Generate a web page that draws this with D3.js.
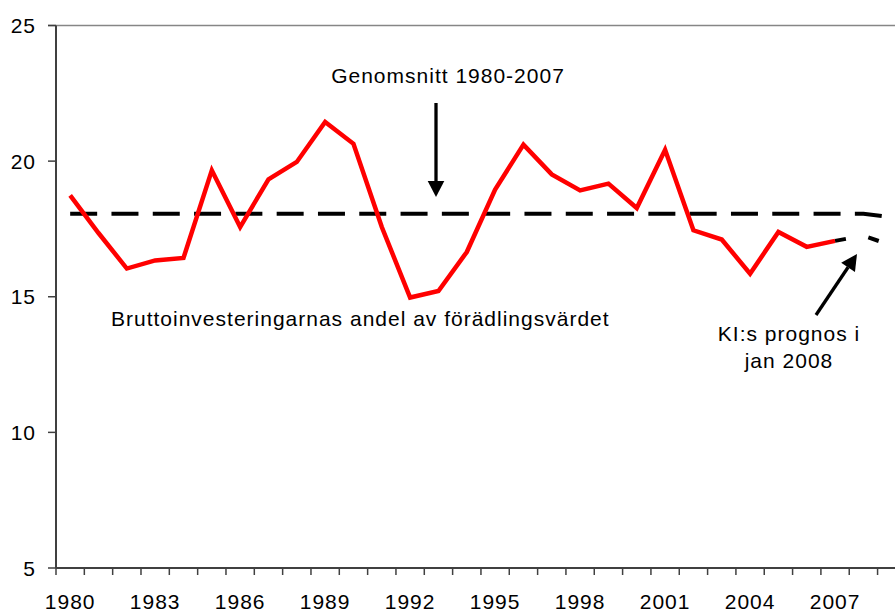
<!DOCTYPE html>
<html>
<head>
<meta charset="utf-8">
<script src="https://cdn.jsdelivr.net/npm/d3@7"></script>
<style>
  body { margin: 0; background: #fff; }
  svg { display: block; }
  text { font-family: "Liberation Sans", Arial, sans-serif; font-size: 21px; letter-spacing: 1px; fill: #000; }
</style>
</head>
<body>
<div id="chart"></div>
<script>
var width = 895, height = 612;

// data
var years = d3.range(1980, 2010);
var actualYears = d3.range(1980, 2008);
var actual = [18.74, 17.35, 16.04, 16.34, 16.43, 19.66, 17.57, 19.33, 19.97, 21.44,
              20.64, 17.57, 14.97, 15.21, 16.65, 18.95, 20.61, 19.51, 18.92, 19.17,
              18.27, 20.42, 17.45, 17.11, 15.85, 17.39, 16.84, 17.06];
var forecastYears = [2007, 2008, 2009];
var forecast = [17.06, 17.25, 16.89];
var average = [18.06, 18.06, 18.06, 18.06, 18.06, 18.06, 18.06, 18.06, 18.06, 18.06,
               18.06, 18.06, 18.06, 18.06, 18.06, 18.06, 18.06, 18.06, 18.06, 18.06,
               18.06, 18.06, 18.06, 18.06, 18.06, 18.06, 18.06, 18.06, 18.06, 17.93];
var yTicks = [5, 10, 15, 20, 25];
var xLabels = [1980, 1983, 1986, 1989, 1992, 1995, 1998, 2001, 2004, 2007];

var svg = d3.select("#chart").append("svg")
  .attr("width", width)
  .attr("height", height);

var x = d3.scaleBand()
  .domain(years)
  .range([56, 56 + 30 * 28.33]);

var y = d3.scaleLinear()
  .domain([5, 25])
  .range([568, 25.5]);

function cx(d) { return x(d) + x.bandwidth() / 2; }

// top border line
svg.append("line")
  .attr("x1", 48).attr("x2", width)
  .attr("y1", y(25)).attr("y2", y(25))
  .attr("stroke", "#868686")
  .attr("stroke-width", 1.5);

// y axis
svg.append("line")
  .attr("x1", 56).attr("x2", 56)
  .attr("y1", y(25)).attr("y2", y(5))
  .attr("stroke", "#404040")
  .attr("stroke-width", 2);

svg.selectAll(".ytick")
  .data(yTicks)
  .enter().append("line")
    .attr("x1", 48).attr("x2", 56)
    .attr("y1", y).attr("y2", y)
    .attr("stroke", "#404040")
    .attr("stroke-width", 1.5);

svg.selectAll(".ylabel")
  .data(yTicks)
  .enter().append("text")
    .attr("x", 36)
    .attr("y", y)
    .attr("dy", "0.36em")
    .attr("text-anchor", "end")
    .text(function(d) { return d; });

// x axis
svg.append("line")
  .attr("x1", 56).attr("x2", width)
  .attr("y1", y(5)).attr("y2", y(5))
  .attr("stroke", "#404040")
  .attr("stroke-width", 2);

svg.selectAll(".xtick")
  .data(years)
  .enter().append("line")
    .attr("x1", function(d) { return x(d); })
    .attr("x2", function(d) { return x(d); })
    .attr("y1", y(5)).attr("y2", y(5) + 7)
    .attr("stroke", "#404040")
    .attr("stroke-width", 1.5);

svg.selectAll(".xlabel")
  .data(xLabels)
  .enter().append("text")
    .attr("x", cx)
    .attr("y", 609)
    .attr("text-anchor", "middle")
    .text(function(d) { return d; });

var line = d3.line()
  .x(function(d) { return cx(d[0]); })
  .y(function(d) { return y(d[1]); });

// average line
svg.append("path")
  .datum(d3.zip(years, average))
  .attr("d", line)
  .attr("fill", "none")
  .attr("stroke", "#000")
  .attr("stroke-width", 4)
  .attr("stroke-dasharray", "27,14.3");

// actual series
svg.append("path")
  .datum(d3.zip(actualYears, actual))
  .attr("d", line)
  .attr("fill", "none")
  .attr("stroke", "#ff0000")
  .attr("stroke-width", 4.5)
  .attr("stroke-linejoin", "miter");

// forecast
svg.append("path")
  .datum(d3.zip(forecastYears, forecast))
  .attr("d", line)
  .attr("fill", "none")
  .attr("stroke", "#000")
  .attr("stroke-width", 4)
  .attr("stroke-dasharray", "11,23");

// annotations
function arrow(x1, y1, x2, y2) {
  var ang = Math.atan2(y2 - y1, x2 - x1);
  var len = 16, half = 8.3;
  var bx = x2 - len * Math.cos(ang), by = y2 - len * Math.sin(ang);
  svg.append("line")
    .attr("x1", x1).attr("y1", y1)
    .attr("x2", bx).attr("y2", by)
    .attr("stroke", "#000")
    .attr("stroke-width", 3.3);
  svg.append("path")
    .attr("d", "M" + x2 + "," + y2 +
      "L" + (bx + half * Math.sin(ang)) + "," + (by - half * Math.cos(ang)) +
      "L" + (bx - half * Math.sin(ang)) + "," + (by + half * Math.cos(ang)) + "Z")
    .attr("fill", "#000");
}

svg.append("text")
  .attr("x", 448).attr("y", 83)
  .attr("text-anchor", "middle")
  .text("Genomsnitt 1980-2007");
arrow(436, 103, 436, 197);

svg.append("text")
  .attr("x", 111).attr("y", 326)
  .text("Bruttoinvesteringarnas andel av förädlingsvärdet");

svg.append("text")
  .attr("x", 789).attr("y", 341)
  .attr("text-anchor", "middle")
  .text("KI:s prognos i");
svg.append("text")
  .attr("x", 789).attr("y", 368)
  .attr("text-anchor", "middle")
  .text("jan 2008");
arrow(816, 315, 857, 254);
</script>
</body>
</html>
